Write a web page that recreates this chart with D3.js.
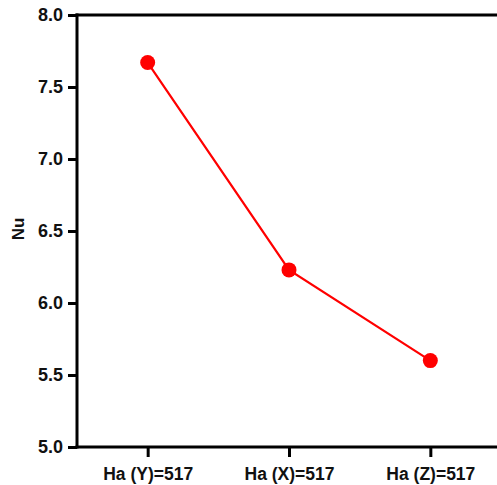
<!DOCTYPE html>
<html>
<head>
<meta charset="utf-8">
<script src="https://cdn.jsdelivr.net/npm/d3@7"></script>
<style>
  html, body { margin: 0; padding: 0; background: #fff; }
  svg { display: block; }
  text { font-family: Arial, "Liberation Sans", Helvetica, sans-serif; font-weight: bold; fill: #111; }
</style>
</head>
<body>
<svg id="chart" width="497" height="485"></svg>
<script>
const categories = ["Ha (Y)=517", "Ha (X)=517", "Ha (Z)=517"];
const nuValues = [7.67, 6.23, 5.60];
const yTicks = [5.0, 5.5, 6.0, 6.5, 7.0, 7.5, 8.0];
const yLabel = "Nu";

const svg = d3.select("#chart");
const W = 497;
const plotLeft = 77, plotTop = 15, plotBottom = 447;

const x = d3.scalePoint().domain(categories).range([plotLeft, 501]).padding(0.5);
const y = d3.scaleLinear().domain([5, 8]).range([plotBottom, plotTop]);

// y axis
const yAxis = svg.append("g")
  .attr("transform", `translate(${plotLeft},0)`)
  .call(d3.axisLeft(y).tickValues(yTicks).tickFormat(d3.format(".1f")).tickSize(9).tickPadding(5));
yAxis.select(".domain").remove();
yAxis.selectAll(".tick line").attr("stroke", "#000").attr("stroke-width", 3);
yAxis.selectAll(".tick text")
  .style("font-size", "18px").attr("fill", "#111");

// x axis
const xAxis = svg.append("g")
  .attr("transform", `translate(0,${plotBottom})`)
  .call(d3.axisBottom(x).tickSize(10).tickPadding(11));
xAxis.select(".domain").remove();
xAxis.selectAll(".tick line").attr("stroke", "#000").attr("stroke-width", 3);
xAxis.selectAll(".tick text")
  .style("font-size", "17.5px").attr("fill", "#111");

// frame lines: left, bottom, top
svg.append("line").attr("x1", plotLeft).attr("x2", plotLeft).attr("y1", plotTop - 1.5).attr("y2", plotBottom + 1.5)
  .attr("stroke", "#000").attr("stroke-width", 3);
svg.append("line").attr("x1", plotLeft - 1.5).attr("x2", W).attr("y1", plotBottom).attr("y2", plotBottom)
  .attr("stroke", "#000").attr("stroke-width", 3);
svg.append("line").attr("x1", plotLeft - 1.5).attr("x2", W).attr("y1", plotTop).attr("y2", plotTop)
  .attr("stroke", "#000").attr("stroke-width", 3);

// y label
svg.append("text")
  .attr("transform", `translate(24,229) rotate(-90)`)
  .attr("text-anchor", "middle")
  .style("font-size", "17px")
  .text(yLabel);

// series
const data = categories.map((c, i) => ({ c, v: nuValues[i] }));
svg.append("path")
  .datum(data)
  .attr("fill", "none")
  .attr("stroke", "#ff0000")
  .attr("stroke-width", 2.2)
  .attr("d", d3.line().x(d => x(d.c)).y(d => y(d.v)));
svg.selectAll("circle.pt")
  .data(data)
  .join("circle")
  .attr("class", "pt")
  .attr("cx", d => x(d.c))
  .attr("cy", d => y(d.v))
  .attr("r", 7.5)
  .attr("fill", "#ff0000");
</script>
</body>
</html>
